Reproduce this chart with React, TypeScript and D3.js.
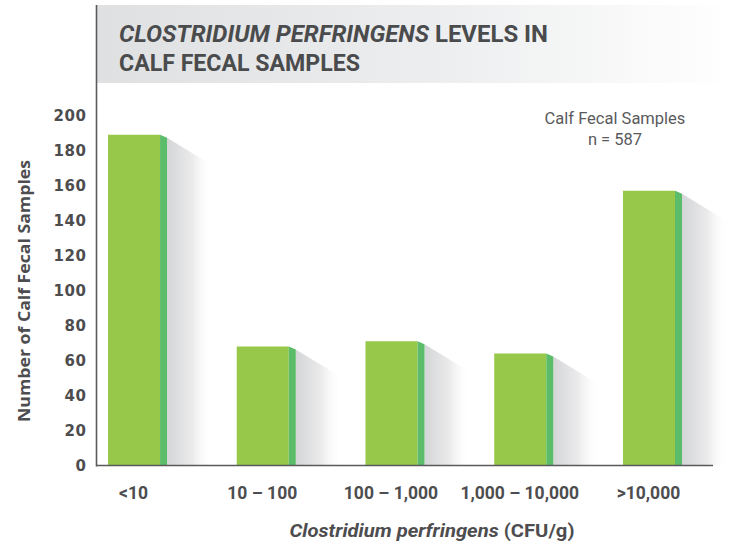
import React, { useEffect, useRef } from "react";
import * as d3 from "d3";

// ---- data ----
const categories = ["<10", "10 – 100", "100 – 1,000", "1,000 – 10,000", ">10,000"];
const counts = [189, 68, 71, 64, 157];
const yTickValues = [0, 20, 40, 60, 80, 100, 120, 140, 160, 180, 200];
const titleItalic = "CLOSTRIDIUM PERFRINGENS";
const titleRest = " LEVELS IN";
const titleLine2 = "CALF FECAL SAMPLES";
const yAxisTitle = "Number of Calf Fecal Samples";
const xTitleItalic = "Clostridium perfringens";
const xTitleRest = " (CFU/g)";
const legendLines = ["Calf Fecal Samples", "n = 587"];

const W = 733;
const H = 548;
const axisX = 96.5;
const baseY = 465.5;
const titleColor = "#4a4b4d";
const textColor = "#4d4d4f";

export default function App() {
  const yAxisRef = useRef<SVGGElement>(null);

  const y = d3.scaleLinear().domain([0, 200]).range([baseY, 115.5]);
  const x = d3
    .scaleBand<string>()
    .domain(categories)
    .range([108, 682])
    .paddingInner(0.5414)
    .paddingOuter(0);
  const bw = x.bandwidth();
  const stripe = 7;
  const shadowW = 46;
  const shadowDrop = 28;

  useEffect(() => {
    if (!yAxisRef.current) return;
    const g = d3.select(yAxisRef.current);
    g.call(d3.axisLeft(y).tickValues(yTickValues).tickSize(0).tickPadding(8));
    g.select(".domain").remove();
    g.selectAll("text")
      .attr("fill", textColor)
      .style("font-family", "'DejaVu Sans', sans-serif")
      .style("font-weight", "600")
      .style("font-size", "15px")
      .style("letter-spacing", "0.6px");
  }, []);

  return (
    <svg
      width={W}
      height={H}
      style={{ position: "absolute", left: 0, top: 0, background: "#fff" }}
    >
      <defs>
        <linearGradient id="titleGrad" x1="0" x2="1" y1="0" y2="0">
          <stop offset="0" stopColor="#dfe0e1" />
          <stop offset="0.55" stopColor="#edeeef" />
          <stop offset="1" stopColor="#ffffff" />
        </linearGradient>
        <linearGradient id="shadowGrad" x1="0" x2="1" y1="0" y2="0">
          <stop offset="0" stopColor="#d4d5d7" />
          <stop offset="0.55" stopColor="#ebebec" />
          <stop offset="1" stopColor="#ffffff" stopOpacity="0" />
        </linearGradient>
      </defs>

      {/* title band */}
      <rect x={axisX} y={5} width={W - axisX} height={78} fill="url(#titleGrad)" />
      <text
        x={119}
        y={42}
        fill={titleColor}
        style={{ fontFamily: "Roboto, sans-serif", fontWeight: 700, fontSize: 23 }}
        textLength={429}
        lengthAdjust="spacingAndGlyphs"
      >
        <tspan fontStyle="italic">{titleItalic}</tspan>
        <tspan>{titleRest}</tspan>
      </text>
      <text
        x={119}
        y={71}
        fill={titleColor}
        style={{ fontFamily: "Roboto, sans-serif", fontWeight: 700, fontSize: 23 }}
        textLength={241}
        lengthAdjust="spacingAndGlyphs"
      >
        {titleLine2}
      </text>

      {/* shadows */}
      {categories.map((c, i) => {
        const x0 = (x(c) as number) + bw;
        const top = y(counts[i]) + 3;
        return (
          <polygon
            key={"s" + c}
            points={`${x0},${top} ${x0 + shadowW},${top + shadowDrop} ${x0 + shadowW},${baseY} ${x0},${baseY}`}
            fill="url(#shadowGrad)"
          />
        );
      })}

      {/* bars */}
      {categories.map((c, i) => {
        const bx = x(c) as number;
        const top = y(counts[i]);
        const sx = bx + bw - stripe;
        return (
          <g key={"b" + c}>
            <rect x={bx} y={top} width={bw - stripe} height={baseY - top} fill="#97c84a" />
            <polygon
              points={`${sx},${top} ${sx + stripe},${top + 3} ${sx + stripe},${baseY} ${sx},${baseY}`}
              fill="#5bbd6a"
            />
          </g>
        );
      })}

      {/* axes lines */}
      <line x1={axisX} x2={axisX} y1={5} y2={baseY + 1} stroke="#5a5a5c" strokeWidth={1.6} />
      <line x1={axisX} x2={713} y1={baseY} y2={baseY} stroke="#5a5a5c" strokeWidth={1.6} />

      {/* y axis labels */}
      <g ref={yAxisRef} transform={`translate(${axisX - 2},0)`} />

      {/* y axis title */}
      <text
        transform={`translate(30,${291}) rotate(-90)`}
        textAnchor="middle"
        fill={textColor}
        style={{ fontFamily: "'Open Sans', sans-serif", fontWeight: 700, fontSize: 16 }}
        textLength={262}
        lengthAdjust="spacingAndGlyphs"
      >
        {yAxisTitle}
      </text>

      {/* x category labels */}
      {categories.map((c) => (
        <text
          key={"l" + c}
          x={(x(c) as number) + bw / 2 - 4}
          y={499}
          textAnchor="middle"
          fill={textColor}
          style={{ fontFamily: "Roboto, sans-serif", fontWeight: 700, fontSize: 17.5 }}
        >
          {c}
        </text>
      ))}

      {/* x axis title */}
      <text
        x={432}
        y={537}
        textAnchor="middle"
        fill={textColor}
        style={{ fontFamily: "Roboto, sans-serif", fontWeight: 700, fontSize: 19 }}
        textLength={285}
        lengthAdjust="spacingAndGlyphs"
      >
        <tspan fontStyle="italic">{xTitleItalic}</tspan>
        <tspan>{xTitleRest}</tspan>
      </text>

      {/* legend note */}
      {legendLines.map((t, i) => (
        <text
          key={"n" + i}
          x={615}
          y={124 + i * 21}
          textAnchor="middle"
          fill="#5a5a5c"
          style={{ fontFamily: "Roboto, sans-serif", fontWeight: 400, fontSize: 16.5 }}
        >
          {t}
        </text>
      ))}
    </svg>
  );
}
